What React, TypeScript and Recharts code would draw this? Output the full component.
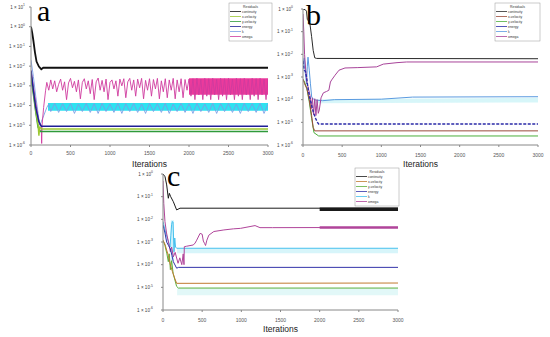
import React from 'react';
import { ComposedChart, Line, Area, XAxis, YAxis } from 'recharts';

type P = [number, number];
type B = [number, number, number];

const SERIES_NAMES = ['continuity', 'x-velocity', 'y-velocity', 'energy', 'k', 'omega'];
const X_TICKS = [0, 500, 1000, 1500, 2000, 2500, 3000];
const A_Y_TICKS = [10, 1, 0.1, 0.01, 0.001, 1e-4, 1e-5, 1e-6];
const A_Y_EXP = ['1', '0', '-1', '-2', '-3', '-4', '-5', '-6'];
const BC_Y_TICKS = [1, 0.1, 0.01, 0.001, 1e-4, 1e-5, 1e-6];
const BC_Y_EXP = ['0', '-1', '-2', '-3', '-4', '-5', '-6'];

// ---------- panel a ----------
const aContinuity: P[] = [[0, 1], [15, 0.5], [30, 0.2], [50, 0.05], [70, 0.017], [100, 0.0095], [130, 0.007], [155, 0.0083], [3000, 0.0083]];
const aXVel: P[] = [[0, 4e-3], [30, 5e-4], [60, 6e-5], [90, 1e-5], [100, 3e-6], [110, 8e-6], [140, 6.5e-6], [3000, 6.5e-6]];
const aYVel: P[] = [[0, 3e-3], [30, 4e-4], [60, 5e-5], [90, 8e-6], [120, 4.8e-6], [3000, 4.8e-6]];
const aEnergy: P[] = [[0, 6e-3], [30, 6e-4], [60, 8e-5], [100, 1.5e-5], [130, 9e-6], [3000, 9e-6]];
const aK: P[] = [[0, 0.02], [30, 3e-3], [60, 3e-4], [90, 4e-5], [110, 1e-5], [130, 1.5e-5], [160, 3e-5], [200, 8e-5], [225, 1.2e-4],
  [250, 5e-5], [300, 1.3e-4], [350, 4.5e-5], [400, 1.25e-4], [450, 5e-5], [500, 1.3e-4], [550, 4e-5], [600, 1.2e-4], [650, 5e-5], [700, 1.3e-4],
  [750, 4.5e-5], [800, 1.25e-4], [850, 4e-5], [900, 1.3e-4], [950, 5e-5], [1000, 1.2e-4], [1050, 4.5e-5], [1100, 1.3e-4], [1150, 4e-5],
  [1200, 1.25e-4], [1250, 5e-5], [1300, 1.3e-4], [1350, 4.5e-5], [1400, 1.2e-4], [1450, 4e-5], [1500, 1.3e-4], [1550, 5e-5], [1600, 1.25e-4],
  [1650, 4.5e-5], [1700, 1.3e-4], [1750, 4e-5], [1800, 1.2e-4], [1850, 5e-5], [1900, 1.3e-4], [1950, 4.5e-5], [2000, 1.25e-4], [2050, 4e-5],
  [2100, 1.3e-4], [2150, 5e-5], [2200, 1.2e-4], [2250, 4.5e-5], [2300, 1.3e-4], [2350, 4e-5], [2400, 1.25e-4], [2450, 5e-5], [2500, 1.3e-4],
  [2550, 4.5e-5], [2600, 1.2e-4], [2650, 4e-5], [2700, 1.3e-4], [2750, 5e-5], [2800, 1.25e-4], [2850, 4.5e-5], [2900, 1.3e-4], [2950, 4e-5], [3000, 1.2e-4]];
const aKBand: B[] = [[215, 5.5e-5, 1.35e-4], [3000, 5.5e-5, 1.35e-4]];
const aOmega: P[] = [[0, 6e-3], [30, 1e-3], [60, 1.5e-4], [90, 2.5e-5], [115, 1e-5], [130, 1e-5], [135, 1.2e-6], [140, 1e-5], [160, 8e-5], [185, 6e-4], [200, 1.5e-3],
  [225, 6e-4], [250, 2e-3], [275, 7e-4], [300, 1.8e-3], [325, 5e-4], [350, 1.2e-3], [375, 2.2e-3], [400, 6e-4], [425, 1.6e-3], [450, 2e-4], [475, 1.4e-3],
  [500, 2.4e-3], [525, 8e-4], [550, 1.7e-3], [575, 5e-4], [600, 2e-3], [625, 2.2e-4], [650, 1.5e-3], [675, 2.3e-3], [700, 7e-4], [725, 1.8e-3], [750, 4e-4],
  [775, 2.1e-3], [800, 2e-4], [825, 1.6e-3], [850, 2.5e-3], [875, 6e-4], [900, 1.9e-3], [925, 5e-4], [950, 2.2e-3], [975, 2e-4], [1000, 1.5e-3],
  [1025, 2e-3], [1050, 7e-4], [1075, 1.8e-3], [1100, 3e-4], [1125, 2.2e-3], [1150, 1e-3], [1175, 2.3e-3], [1200, 2.5e-4], [1225, 1.6e-3], [1250, 2.4e-3],
  [1275, 6e-4], [1300, 2e-3], [1325, 3e-4], [1350, 2.2e-3], [1375, 8e-4], [1400, 2.4e-3], [1425, 2.2e-4], [1450, 1.9e-3], [1475, 6e-4], [1500, 2.3e-3],
  [1525, 3e-4], [1550, 2.1e-3], [1575, 7e-4], [1600, 2.4e-3], [1625, 2.2e-4], [1650, 1.8e-3], [1675, 5e-4], [1700, 2.3e-3], [1725, 2.5e-4], [1750, 2e-3],
  [1775, 6e-4], [1800, 2.4e-3], [1825, 2.2e-4], [1850, 2e-3], [1875, 5e-4], [1900, 2.3e-3], [1925, 2.5e-4], [1950, 2.1e-3], [1975, 6e-4], [2000, 2.2e-3],
  [2025, 3e-4], [2050, 2.3e-3], [2075, 2e-4], [2100, 2.4e-3], [2125, 3.5e-4], [2150, 2.2e-3], [2175, 2e-4], [2200, 2.4e-3], [2225, 3e-4], [2250, 2.3e-3],
  [2275, 2e-4], [2300, 2.4e-3], [2325, 3.5e-4], [2350, 2.2e-3], [2375, 2e-4], [2400, 2.4e-3], [2425, 3e-4], [2450, 2.3e-3], [2475, 2e-4], [2500, 2.4e-3],
  [2525, 3.5e-4], [2550, 2.2e-3], [2575, 2e-4], [2600, 2.4e-3], [2625, 3e-4], [2650, 2.3e-3], [2675, 2e-4], [2700, 2.4e-3], [2725, 3.5e-4], [2750, 2.2e-3],
  [2775, 2e-4], [2800, 2.4e-3], [2825, 3e-4], [2850, 2.3e-3], [2875, 2e-4], [2900, 2.4e-3], [2925, 3.5e-4], [2950, 2.2e-3], [2975, 2e-4], [3000, 2.3e-3]];
const aOmegaBand: B[] = [[2000, 3.5e-4, 2.4e-3], [3000, 3.5e-4, 2.4e-3]];

// ---------- panel b ----------
const bContinuity: P[] = [[0, 1], [30, 0.92], [45, 0.8], [55, 0.35], [75, 0.28], [90, 0.2], [110, 0.06], [130, 0.015], [150, 0.007], [175, 0.0066], [3000, 0.0064]];
const bXVel: P[] = [[0, 8e-4], [20, 5e-4], [50, 3e-4], [80, 1e-4], [110, 2e-5], [130, 6e-6], [150, 4.2e-6], [3000, 4.2e-6]];
const bYVel: P[] = [[0, 8e-4], [20, 6e-4], [50, 3e-4], [80, 8e-5], [110, 1.5e-5], [140, 3.5e-6], [200, 2.5e-6], [3000, 2.5e-6]];
const bEnergy: P[] = [[0, 5e-3], [15, 2e-3], [30, 1.8e-3], [45, 1e-3], [60, 4e-4], [80, 1.5e-4], [100, 8e-5], [130, 3e-5], [160, 1.5e-5], [185, 1e-5], [200, 8.5e-6], [3000, 8.5e-6]];
const bK: P[] = [[0, 3e-3], [10, 6e-3], [17, 7e-3], [30, 1.5e-3], [45, 5e-4], [55, 3e-3], [64, 7.5e-3], [80, 2e-3], [95, 5e-4], [111, 1.3e-4], [140, 1e-4], [174, 9.5e-5], [250, 9e-5], [400, 1e-4], [1000, 1.05e-4], [1400, 1.3e-4], [3000, 1.35e-4]];
const bOmega: P[] = [[0, 0.6], [10, 0.1], [20, 0.01], [35, 2e-3], [50, 6e-4], [70, 3e-4], [90, 1.5e-4], [105, 4e-5], [120, 1.2e-4], [135, 2.2e-5], [150, 1.1e-4], [165, 2e-5],
  [180, 1e-4], [195, 2.5e-5], [208, 3.5e-5], [230, 1.2e-4], [260, 2e-4], [300, 2.3e-4], [330, 2.6e-4], [350, 6e-4], [366, 7.4e-4], [409, 1.2e-3], [460, 2e-3],
  [536, 2.5e-3], [700, 2.6e-3], [940, 2.8e-3], [1025, 3.7e-3], [1200, 4.3e-3], [1323, 4.6e-3], [3000, 4.6e-3]];
const bKBand: B[] = [[150, 7e-5, 1.05e-4], [3000, 7.5e-5, 1.2e-4]];

// ---------- panel c ----------
const cContinuity: P[] = [[0, 1], [26, 0.76], [47, 0.33], [68, 0.085], [81, 0.14], [98, 0.1], [132, 0.06], [174, 0.026], [217, 0.031], [3000, 0.031]];
const cContinuityTail: P[] = [[2000, 0.028], [3000, 0.028]];
const cXVel: P[] = [[0, 1.2e-3], [25, 8e-4], [50, 4e-4], [70, 2.5e-4], [94, 9.7e-5], [120, 5e-5], [150, 2.5e-5], [174, 1.5e-5], [3000, 1.55e-5]];
const cYVel: P[] = [[0, 1.2e-3], [25, 7e-4], [50, 3e-4], [68, 1.35e-4], [80, 3e-4], [94, 6e-5], [110, 1.5e-4], [130, 4e-5], [174, 1.1e-5], [196, 9.3e-6], [3000, 9.3e-6]];
const cEnergy: P[] = [[0, 5.6e-3], [25, 2.5e-3], [47, 1e-3], [70, 7e-4], [94, 5e-4], [115, 2.5e-4], [132, 1.35e-4], [174, 7e-5], [200, 7.6e-5], [3000, 7.6e-5]];
const cK: P[] = [[0, 8e-3], [20, 4e-3], [40, 2.2e-3], [70, 1e-3], [90, 6e-4], [100, 2e-3], [110, 6e-3], [120, 8e-3], [128, 7.5e-3], [135, 1.5e-3], [141, 3.7e-4], [150, 1.5e-3], [160, 6e-4], [174, 5.3e-4], [3000, 5.3e-4]];
const cOmega: P[] = [[0, 0.5], [10, 0.05], [25, 8e-3], [45, 2.5e-3], [70, 1e-3], [94, 3.7e-4], [110, 6e-4], [132, 2.2e-4], [155, 3.5e-4], [192, 1.15e-4], [215, 2e-4],
  [240, 1e-4], [258, 3e-4], [268, 1e-4], [272, 6.2e-4], [300, 6.5e-4], [387, 7.4e-4], [410, 9e-4], [430, 1.2e-3], [473, 2.4e-3], [500, 2.2e-3], [515, 1.1e-3],
  [530, 8.7e-4], [543, 7e-4], [560, 1.2e-3], [585, 2e-3], [649, 2.9e-3], [777, 3.4e-3], [898, 3.8e-3], [990, 4e-3], [1111, 4.8e-3], [1175, 5.3e-3],
  [1238, 4.3e-3], [1400, 4.3e-3], [3000, 4.4e-3]];
const cOmegaTail: P[] = [[2000, 4.4e-3], [3000, 4.4e-3]];
const cKBand: B[] = [[180, 3.2e-4, 5.3e-4], [3000, 3.2e-4, 5.3e-4]];
const cKSpike: B[] = [[100, 1.5e-4, 9e-3], [140, 1.5e-4, 9e-3]];
const cYVelBand: B[] = [[180, 4.5e-6, 9.3e-6], [3000, 4.5e-6, 9.3e-6]];

const A_COLORS = ['#111111', '#9cc832', '#2f9a3a', '#1e1e96', '#7a9ee6', '#cf3a9e'];
const B_COLORS = ['#2a2a2a', '#9a4a3a', '#4caf3c', '#2b2ba8', '#5b9be0', '#a8449a'];
const C_COLORS = ['#1a1a1a', '#c07a30', '#5cb03c', '#3333aa', '#45c0ee', '#b0449a'];

const toPts = (arr: P[]) => arr.map(([x, y]) => ({ x, y }));
const toBand = (arr: B[]) => arr.map(([x, lo, hi]) => ({ x, y: [lo, hi] }));

interface LineCfg { data: P[]; color: string; width: number; dash?: string }
interface BandCfg { data: B[]; color: string; opacity: number }
interface PanelCfg {
  left: number; top: number; margin: { top: number; right: number; left: number; bottom: number };
  yTicks: number[]; yExp: string[]; yDomain: [number, number];
  yMargin: number; xMargin: number;
  bands: BandCfg[]; lines: LineCfg[];
}

const FONT = 'Liberation Sans, Arial, sans-serif';

function makeYTick(ticks: number[], exps: string[]) {
  return (props: any) => {
    const { x, y, payload } = props;
    const idx = ticks.findIndex((t) => Math.abs(Math.log10(t) - Math.log10(payload.value)) < 0.01);
    const e = idx >= 0 ? exps[idx] : '';
    return (
      <text x={x} y={y} dy={1.6} textAnchor="end" fontSize={4.6} fill="#444" fontFamily={FONT}>
        1 × 10<tspan dy={-2.2} fontSize={3.4}>{e}</tspan>
      </text>
    );
  };
}

function Panel({ cfg }: { cfg: PanelCfg }) {
  return (
    <div style={{ position: 'absolute', left: cfg.left, top: cfg.top, width: 275, height: 170 }}>
      <ComposedChart width={275} height={170} margin={cfg.margin}>
        <XAxis dataKey="x" type="number" domain={[0, 3000]} ticks={X_TICKS} allowDataOverflow
          tick={{ fontSize: 5, fill: '#555', fontFamily: FONT }} tickSize={2} tickMargin={cfg.xMargin}
          stroke="#888" height={25}
          label={{ value: 'Iterations', position: 'insideBottom', offset: 3, fontSize: 8.5, fill: '#222', fontFamily: FONT }} />
        <YAxis type="number" scale="log" domain={cfg.yDomain} ticks={cfg.yTicks} allowDataOverflow
          tick={makeYTick(cfg.yTicks, cfg.yExp)} tickSize={2} tickMargin={cfg.yMargin} stroke="#888" width={31} interval={0} />
        {cfg.bands.map((b, i) => (
          <Area key={'b' + i} data={toBand(b.data)} dataKey="y" type="linear" stroke="none" fill={b.color}
            fillOpacity={b.opacity} isAnimationActive={false} />
        ))}
        {cfg.lines.map((l, i) => (
          <Line key={'l' + i} data={toPts(l.data)} dataKey="y" type="linear" stroke={l.color} strokeWidth={l.width}
            strokeDasharray={l.dash} dot={false} isAnimationActive={false} />
        ))}
      </ComposedChart>
    </div>
  );
}

const panelA: PanelCfg = {
  left: 0, top: 0, margin: { top: 7, right: 7, left: 0, bottom: 0 },
  yTicks: A_Y_TICKS, yExp: A_Y_EXP, yDomain: [1e-6, 10], yMargin: 4, xMargin: 4,
  bands: [
    { data: aKBand, color: '#2ee2f0', opacity: 1 },
    { data: aOmegaBand, color: '#ec3a9c', opacity: 1 },
  ],
  lines: [
    { data: aK, color: A_COLORS[4], width: 0.9 },
    { data: aOmega, color: A_COLORS[5], width: 0.9 },
    { data: aYVel, color: A_COLORS[2], width: 1.6 },
    { data: aXVel, color: A_COLORS[1], width: 1.4 },
    { data: aEnergy, color: A_COLORS[3], width: 1.5 },
    { data: aContinuity, color: A_COLORS[0], width: 1.8 },
  ],
};

const panelB: PanelCfg = {
  left: 272, top: 0, margin: { top: 9, right: 9, left: 0, bottom: 0 },
  yTicks: BC_Y_TICKS, yExp: BC_Y_EXP, yDomain: [1e-6, 1], yMargin: 8, xMargin: 6,
  bands: [{ data: bKBand, color: '#cdf4f8', opacity: 0.8 }],
  lines: [
    { data: bK, color: B_COLORS[4], width: 1 },
    { data: bOmega, color: B_COLORS[5], width: 1 },
    { data: bYVel, color: B_COLORS[2], width: 1 },
    { data: bXVel, color: B_COLORS[1], width: 1 },
    { data: bEnergy, color: B_COLORS[3], width: 1.4, dash: '3 1.5' },
    { data: bContinuity, color: B_COLORS[0], width: 1 },
  ],
};

const panelC: PanelCfg = {
  left: 132, top: 165, margin: { top: 9, right: 9, left: 0, bottom: 0 },
  yTicks: BC_Y_TICKS, yExp: BC_Y_EXP, yDomain: [1e-6, 1], yMargin: 8, xMargin: 6,
  bands: [
    { data: cKBand, color: '#d3f4fa', opacity: 0.9 },
    { data: cYVelBand, color: '#dff7f7', opacity: 0.9 },
    { data: cKSpike, color: '#bfeefa', opacity: 0.8 },
  ],
  lines: [
    { data: cK, color: C_COLORS[4], width: 1 },
    { data: cOmega, color: C_COLORS[5], width: 1 },
    { data: cOmegaTail, color: C_COLORS[5], width: 2.5 },
    { data: cYVel, color: C_COLORS[2], width: 1 },
    { data: cXVel, color: C_COLORS[1], width: 1 },
    { data: cEnergy, color: C_COLORS[3], width: 1 },
    { data: cContinuity, color: C_COLORS[0], width: 1 },
    { data: cContinuityTail, color: C_COLORS[0], width: 3.5 },
  ],
};

function LegendBox({ x, y, w, colors }: { x: number; y: number; w: number; colors: string[] }) {
  return (
    <g>
      <rect x={x} y={y} width={w} height={38} fill="#fff" stroke="#999" strokeWidth={0.5} />
      <text x={x + w / 2} y={y + 4.5} textAnchor="middle" fontSize={3.4} fill="#333" fontFamily={FONT}>Residuals</text>
      {SERIES_NAMES.map((n, i) => (
        <g key={n}>
          <line x1={x + 1} x2={x + 12} y1={y + 8.5 + i * 5} y2={y + 8.5 + i * 5} stroke={colors[i]} strokeWidth={0.8} />
          <text x={x + 13} y={y + 9.7 + i * 5} fontSize={3.4} fill="#333" fontFamily={FONT}>{n}</text>
        </g>
      ))}
    </g>
  );
}

const SERIF = 'Liberation Serif, Times New Roman, serif';

export default function App() {
  return (
    <div style={{ position: 'absolute', left: 0, top: 0, width: 550, height: 337, background: '#fff', overflow: 'hidden' }}>
      <Panel cfg={panelA} />
      <Panel cfg={panelB} />
      <Panel cfg={panelC} />
      <svg width={550} height={337} style={{ position: 'absolute', left: 0, top: 0, pointerEvents: 'none' }}>
        <text x={37} y={21} fontSize={30} fontFamily={SERIF} fill="#000">a</text>
        <text x={306} y={25} fontSize={30} fontFamily={SERIF} fill="#000">b</text>
        <text x={167} y={186} fontSize={30} fontFamily={SERIF} fill="#000">c</text>
        <LegendBox x={229} y={3} w={43} colors={A_COLORS} />
        <LegendBox x={495} y={3} w={45} colors={B_COLORS} />
        <LegendBox x={355} y={168} w={44} colors={C_COLORS} />
      </svg>
    </div>
  );
}
